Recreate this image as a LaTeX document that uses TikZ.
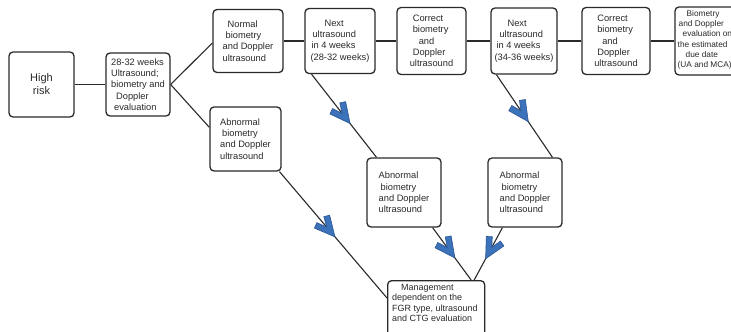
\documentclass[tikz,border=0pt]{standalone}
\usepackage{fontspec}
\setmainfont{Liberation Sans}
\usetikzlibrary{calc,decorations.markings}
\definecolor{chevfill}{HTML}{3C72BA}
\definecolor{chevedge}{HTML}{2A5595}
\definecolor{ink}{HTML}{2A2A2A}
\newcommand\chevshape{\filldraw[fill=chevfill, draw=chevedge, line width=0.6pt, line join=miter] (11,0) -- (-9,10) -- (-11.6,4.6) -- (-2,0) -- (-11.6,-4.6) -- (-9,-10) -- cycle;}
\begin{document}
\begin{tikzpicture}[x=1pt,y=-1pt,
  box/.style={draw=ink, line width=1.3pt, rounded corners=4pt, fill=white, inner sep=0pt,
    text=ink, font=\fontsize{9.3}{11.3}\selectfont, align=left},
  txt/.style={inner sep=0pt, text=ink, align=left},
  conn/.style={draw=ink, line width=1.1pt},
  chevmark/.style={postaction={decorate}, decoration={markings, mark=at position #1 with {\chevshape}}}
]
\useasboundingbox (0,0) rectangle (731,332);
\fill[white] (0,0) rectangle (731,332);

% boxes
\node[box, minimum width=65pt, minimum height=65pt, align=center, font=\fontsize{11}{13}\selectfont] (hr) at (41.5,84.5) {High\\risk};
\node[box, minimum width=64pt, minimum height=63pt] (b1) at (138,84.5) {28-32 weeks\\Ultrasound;\\biometry and\\\hspace*{5pt}Doppler\\\hspace*{3pt}evaluation};
\node[box, minimum width=70pt, minimum height=63pt] (nb) at (248,41) {\hspace*{5pt}Normal\\\hspace*{3pt}biometry\\and Doppler\\ultrasound};
\node[box, minimum width=70pt, minimum height=65pt] (n1) at (340,41) {\hspace*{14pt}Next\\\hspace*{2pt}ultrasound\\\hspace*{1pt}in 4 weeks\\(28-32 weeks)};
\node[box, minimum width=69pt, minimum height=67pt] (c1) at (431.5,41) {\hspace*{3pt}Correct\\\hspace*{3pt}biometry\\\hspace*{9pt}and\\\hspace*{3pt}Doppler\\ultrasound};
\node[box, minimum width=66pt, minimum height=66pt] (n2) at (524,41) {\hspace*{13pt}Next\\\hspace*{5pt}ultrasound\\\hspace*{2pt}in 4 weeks\\(34-36 weeks)};
\node[box, minimum width=68pt, minimum height=67pt] (c2) at (616,41) {\hspace*{3pt}Correct\\\hspace*{3pt}biometry\\\hspace*{8pt}and\\\hspace*{3pt}Doppler\\ultrasound};
\node[box, minimum width=75pt, minimum height=68pt] (be) at (712.5,41) {};
\node[txt, anchor=west, font=\fontsize{8.3}{10.3}\selectfont] (bet) at (677.5,40) {\hspace*{9pt}Biometry\\\hspace*{1pt}and Doppler\\\hspace*{5pt}evaluation on\\the estimated\\\hspace*{8pt}due date\\(UA and MCA)};
\node[box, minimum width=71pt, minimum height=64pt] (ab1) at (245.5,139) {Abnormal\\\hspace*{2pt}biometry\\and Doppler\\ultrasound};
\node[box, minimum width=74pt, minimum height=69pt] (ab2) at (404,192.5) {Abnormal\\\hspace*{2pt}biometry\\and Doppler\\ultrasound};
\node[box, minimum width=74pt, minimum height=69pt] (ab3) at (525,192.5) {Abnormal\\\hspace*{2pt}biometry\\and Doppler\\ultrasound};
\node[box, minimum width=97pt, minimum height=60pt, anchor=north west] (mg) at (387,280) {};
\node[txt, anchor=north west, font=\fontsize{9}{10.4}\selectfont] (mgt) at (392,284) {\hspace*{9pt}Management\\dependent on the\\FGR type, ultrasound\\and CTG evaluation};

% connectors
\draw[conn] (hr.east) -- (b1.west);
\draw[conn] (b1.east) -- ([yshift=-2pt]nb.west);
\draw[conn] (b1.east) -- ([yshift=-21pt]ab1.north west);
\draw[conn] (nb.east) -- (n1.west);
\draw[conn] (n1.east) -- (c1.west);
\draw[conn] (c1.east) -- (n2.west);
\draw[conn] (n2.east) -- (c2.west);
\draw[conn] (c2.east) -- (be.west);
\draw[conn, chevmark=0.49] ($(n1.south west)!0.1!(n1.south east)$) -- ($(ab2.north west)!0.135!(ab2.north east)$);
\draw[conn, chevmark=0.46] ($(n2.south west)!0.09!(n2.south east)$) -- ($(ab3.north west)!0.865!(ab3.north east)$);
\draw[conn, chevmark=0.45] ($(ab1.south west)!0.97!(ab1.south east)$) -- ([yshift=-18pt]mg.north west);
\draw[conn, chevmark=0.41] ($(ab2.south west)!0.88!(ab2.south east)$) -- ($(mg.north west)!0.856!(mg.north east)$);
\draw[conn, chevmark=0.41] ($(ab3.south west)!0.2!(ab3.south east)$) -- ($(mg.north west)!0.887!(mg.north east)$);
\end{tikzpicture}
\end{document}
